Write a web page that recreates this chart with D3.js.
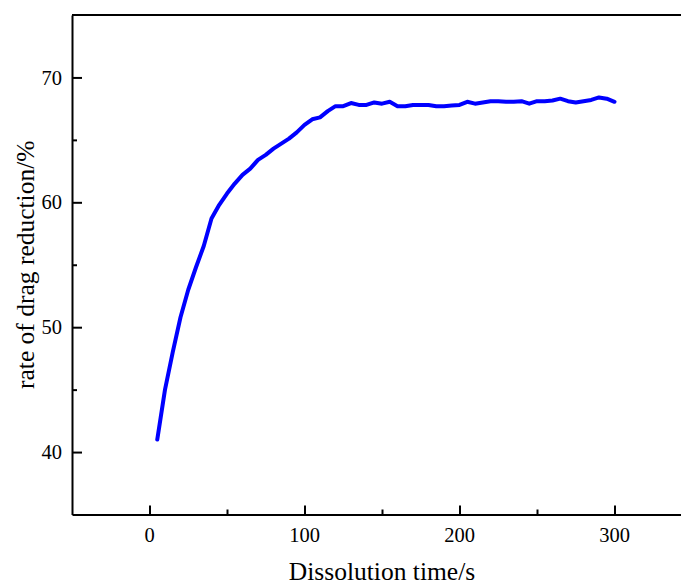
<!DOCTYPE html>
<html>
<head>
<meta charset="utf-8">
<script src="https://cdn.jsdelivr.net/npm/d3@7"></script>
<style>
  body { margin: 0; background: #fff; }
  svg { display: block; font-family: "Liberation Serif", "Times New Roman", serif; }
</style>
</head>
<body>
<script>
"use strict";
(function(){
  // dissolution time (s)
  const times = [5,10,15,20,25,30,35,40,45,50,55,60,65,70,75,80,85,90,95,100,
    105,110,115,120,125,130,135,140,145,150,155,160,165,170,175,180,185,190,195,200,
    205,210,215,220,225,230,235,240,245,250,255,260,265,270,275,280,285,290,295,300]
  // rate of drag reduction (%)
  const rates = [41.0,45.0,48.0,50.8,53.0,54.8,56.5,58.7,59.8,60.7,61.5,62.2,62.7,63.4,63.8,64.3,64.7,65.1,65.6,66.2,
    66.65,66.8,67.3,67.7,67.7,67.95,67.8,67.8,68.0,67.9,68.05,67.7,67.7,67.8,67.8,67.8,67.7,67.7,67.75,67.8,
    68.05,67.9,68.0,68.1,68.1,68.05,68.05,68.1,67.9,68.1,68.1,68.15,68.3,68.1,68.0,68.1,68.2,68.4,68.3,68.05]
  const xTicks = [0,100,200,300]
  const xMinor = [50,150,250]
  const yTicks = [40,50,60,70]
  const yMinor = [45,55,65]

  let m = { width: 681, height: 585, left: 72, top: 15, bottom: 514.5 }

  const svg = d3.select("body").append('svg')
      .attr('width', m.width)
      .attr('height', m.height)

  let x = d3.scaleLinear().domain([-50, 350]).range([m.left, m.left + 620])
  let y = d3.scaleLinear().domain([35, 75]).range([m.bottom, m.top])

  const data = times.map((t, i) => ({t: t, v: rates[i]}))

  // frame (top + right, right edge falls outside the window)
  svg.append('path')
      .attr('d', `M${x(-50)},${y(75)}H${x(350)}V${y(35)}`)
      .attr('fill', 'none')
      .attr('stroke', '#000')
      .attr('stroke-width', 2)

  // x axis, ticks pointing inward
  let xAxis = svg.append('g')
      .attr('transform', `translate(0,${m.bottom})`)
      .call(d3.axisTop(x).tickValues(xTicks).tickSize(9).tickSizeOuter(0))
  xAxis.selectAll('text').remove()
  svg.append('g')
      .attr('transform', `translate(0,${m.bottom})`)
      .call(d3.axisTop(x).tickValues(xMinor).tickSize(5).tickSizeOuter(0).tickFormat(''))
      .select('.domain').remove()
  svg.append('g').selectAll('text')
      .data(xTicks)
      .enter()
      .append('text')
        .attr('x', d => x(d))
        .attr('y', m.bottom + 27.5)
        .attr('text-anchor', 'middle')
        .attr('font-size', '20.5px')
        .text(d => d)

  // y axis, ticks pointing inward
  let yAxis = svg.append('g')
      .attr('transform', `translate(${m.left},0)`)
      .call(d3.axisRight(y).tickValues(yTicks).tickSize(10).tickSizeOuter(0))
  yAxis.selectAll('text').remove()
  svg.append('g')
      .attr('transform', `translate(${m.left},0)`)
      .call(d3.axisRight(y).tickValues(yMinor).tickSize(5).tickSizeOuter(0).tickFormat(''))
      .select('.domain').remove()
  svg.append('g').selectAll('text')
      .data(yTicks)
      .enter()
      .append('text')
        .attr('x', m.left - 10)
        .attr('y', d => y(d))
        .attr('dy', '0.35em')
        .attr('text-anchor', 'end')
        .attr('font-size', '20.5px')
        .text(d => d)

  svg.selectAll('.domain, .tick line')
      .attr('stroke', '#000')
      .attr('stroke-width', 2)

  // series
  let line = d3.line()
      .x(d => x(d.t))
      .y(d => y(d.v))
  svg.append('path')
      .datum(data)
      .attr('d', line)
      .attr('fill', 'none')
      .attr('stroke', '#0000ff')
      .attr('stroke-width', 4)
      .attr('stroke-linejoin', 'round')
      .attr('stroke-linecap', 'round')

  // axis titles
  svg.append('text')
      .attr('x', x(150))
      .attr('y', 580)
      .attr('text-anchor', 'middle')
      .attr('font-size', '25.5px')
      .text('Dissolution time/s')
  svg.append('text')
      .attr('transform', `translate(34,${y(55)}) rotate(-90)`)
      .attr('text-anchor', 'middle')
      .attr('font-size', '25.5px')
      .text('rate of drag reduction/%')
})();
</script>
</body>
</html>
